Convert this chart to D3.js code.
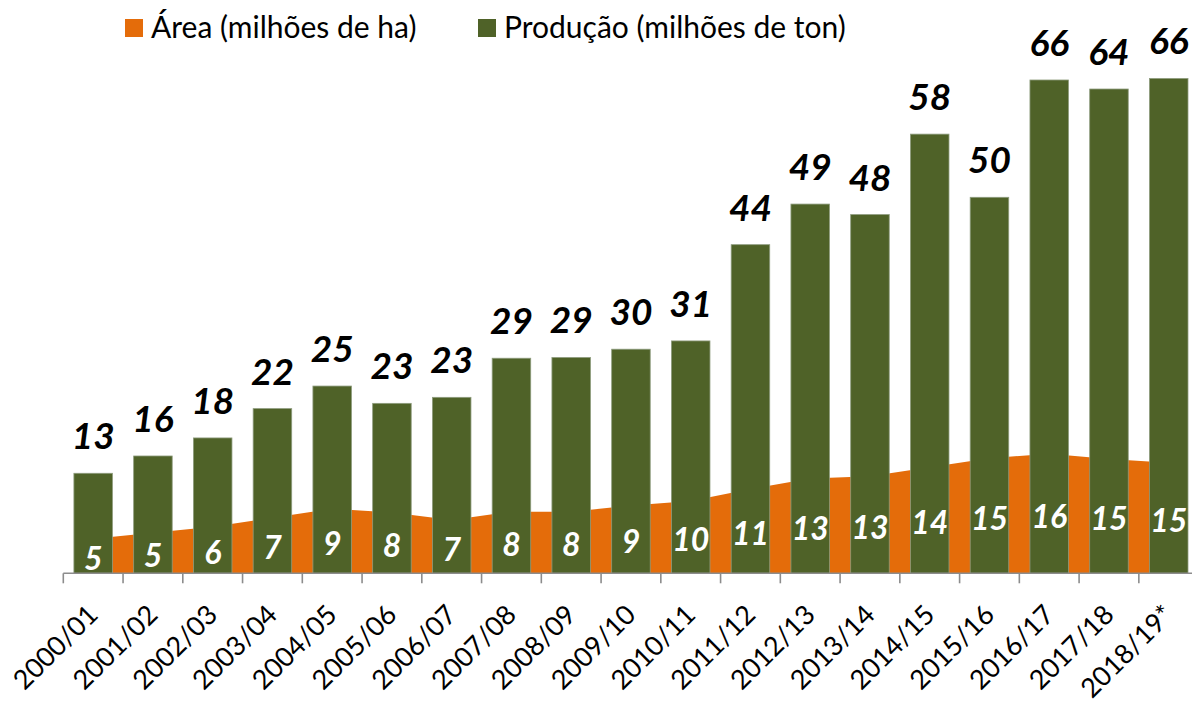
<!DOCTYPE html>
<html>
<head>
<meta charset="utf-8">
<script src="https://cdn.jsdelivr.net/npm/d3@7"></script>
<style>
  html, body { margin: 0; padding: 0; background: #ffffff; }
  svg { display: block; }
  text { font-family: Lato, "Noto Sans", sans-serif; }
</style>
</head>
<body>
<div id="chart"></div>
<script>
const seasons = ['2000/01', '2001/02', '2002/03', '2003/04', '2004/05', '2005/06', '2006/07',
    '2007/08', '2008/09', '2009/10', '2010/11', '2011/12', '2012/13', '2013/14', '2014/15',
    '2015/16', '2016/17', '2017/18', '2018/19*'];
const areaValues = [4.6, 5.4, 6.2, 7.4, 8.6, 8.1, 7.1, 8.2, 8.2, 9.0, 9.6, 11.2, 12.6, 12.9, 14.1,
    15.3, 15.9, 15.2, 14.7];
const productionValues = [13.3, 15.6, 18.0, 21.9, 24.9, 22.6, 23.4, 28.6, 28.7, 29.8, 30.9, 43.7,
    49.1, 47.7, 58.4, 50.0, 65.6, 64.4, 65.8];
const seriesNames = ['Área (milhões de ha)', 'Produção (milhões de ton)'];
const seriesColors = ['#E46C0A', '#4F6228'];

const width = 1192;
const height = 701;
const plot = { left: 63.3, right: 1198.6, top: 46.9, bottom: 573.3 };

const rows = seasons.map((s, i) => ({ season: s, area: areaValues[i], prod: productionValues[i] }));

const svg = d3.select('#chart').append('svg')
    .attr('width', width)
    .attr('height', height);

const x = d3.scaleBand()
    .domain(seasons)
    .range([plot.left, plot.right])
    .paddingInner(0.355)
    .paddingOuter(0.1775);

const y = d3.scaleLinear()
    .domain([0, 70])
    .range([plot.bottom, plot.top]);

const cx = (d) => x(d.season) + x.bandwidth() / 2;

// area series (behind the bars)
const area = d3.area()
    .x(cx)
    .y0(y(0))
    .y1((d) => y(d.area));

svg.append('path')
    .datum(rows)
    .attr('d', area)
    .attr('fill', seriesColors[0]);

// production bars
svg.selectAll('rect.bar')
    .data(rows)
    .join('rect')
    .attr('class', 'bar')
    .attr('x', (d) => x(d.season))
    .attr('width', x.bandwidth())
    .attr('y', (d) => y(d.prod))
    .attr('height', (d) => y(0) - y(d.prod))
    .attr('fill', seriesColors[1])
    .attr('stroke', '#8e9c7e')
    .attr('stroke-width', 0.8);

// x axis: line + ticks on category boundaries
const step = x.step();
const axis = svg.append('g').attr('class', 'x-axis');
axis.append('line')
    .attr('x1', plot.left).attr('x2', plot.right)
    .attr('y1', y(0)).attr('y2', y(0))
    .attr('stroke', '#8c8c8c').attr('stroke-width', 1.6);
axis.selectAll('line.tick')
    .data(d3.range(seasons.length + 1))
    .join('line')
    .attr('class', 'tick')
    .attr('x1', (i) => plot.left + i * step)
    .attr('x2', (i) => plot.left + i * step)
    .attr('y1', y(0))
    .attr('y2', y(0) + 10)
    .attr('stroke', '#8c8c8c').attr('stroke-width', 1.6);

axis.selectAll('text')
    .data(rows)
    .join('text')
    .attr('transform', (d) => `translate(${cx(d) + 6.5},${y(0) + 43}) rotate(-45)`)
    .attr('text-anchor', 'end')
    .attr('font-size', 27)
    .attr('fill', '#000')
    .text((d) => d.season);

// data labels
svg.selectAll('text.prod-label')
    .data(rows)
    .join('text')
    .attr('class', 'prod-label')
    .attr('x', cx)
    .attr('y', (d) => y(d.prod) - 24)
    .attr('text-anchor', 'middle')
    .attr('font-size', 37)
    .attr('font-weight', 700)
    .attr('font-style', 'italic')
    .attr('fill', '#000')
    .text((d) => Math.round(d.prod));

svg.selectAll('text.area-label')
    .data(rows)
    .join('text')
    .attr('class', 'area-label')
    .attr('x', cx)
    .attr('y', (d) => y(d.area / 2) + 14)
    .attr('text-anchor', 'middle')
    .attr('font-size', 32)
    .attr('font-weight', 700)
    .attr('font-style', 'italic')
    .attr('fill', '#fff')
    .text((d) => Math.round(d.area));

// legend
const legendX = [125, 478];
const legend = svg.append('g').attr('class', 'legend');
seriesNames.forEach((name, i) => {
    legend.append('rect')
        .attr('x', legendX[i]).attr('y', 19)
        .attr('width', 18).attr('height', 18)
        .attr('fill', seriesColors[i]);
    legend.append('text')
        .attr('x', legendX[i] + 26)
        .attr('y', 37.5)
        .attr('font-size', 30)
        .attr('fill', '#000')
        .text(name);
});
</script>
</body>
</html>
